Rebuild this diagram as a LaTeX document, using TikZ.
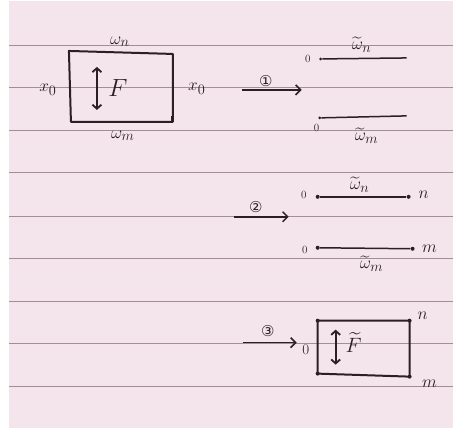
\documentclass[tikz,border=0pt]{standalone}
\usepackage{amsmath}
\usepackage{fontspec}
\newfontfamily\circfont{DejaVu Sans}
\usetikzlibrary{arrows.meta}

\definecolor{paper}{HTML}{F3E5EB}
\definecolor{rulec}{HTML}{A38E96}
\definecolor{inkc}{HTML}{2A1F22}

\begin{document}
\begin{tikzpicture}[
    x=1pt, y=-1pt,
    inkline/.style={draw=inkc, line width=2pt, line join=round},
    segline/.style={draw=inkc, line width=1.5pt},
    steparrow/.style={draw=inkc, line width=1.5pt, -{Straight Barb[length=5pt, width=10pt]}},
    dblarrow/.style={draw=inkc, line width=1.8pt, {Straight Barb[length=4pt, width=9pt]}-{Straight Barb[length=4pt, width=9pt]}},
    lbl/.style={text=inkc, font=\fontsize{19}{22}\selectfont, inner sep=1pt},
    big/.style={text=inkc, font=\fontsize{26}{30}\selectfont, inner sep=1pt},
    num/.style={text=inkc, font=\circfont\fontsize{15}{17}\selectfont, inner sep=0pt},
    zeromark/.style={text=inkc, font=\fontsize{11}{12}\selectfont, inner sep=0pt},
    endpt/.style={circle, fill=inkc, inner sep=0pt, minimum size=4pt},
]

% paper and rules
\fill[white] (0,0) rectangle (453,431);
\fill[paper] (9,1) rectangle (453,428);
\foreach \y in {45,88,131,173,217,259,302,344,387}
    \draw[rulec, line width=0.9pt] (9,\y) -- (453,\y);

% original cell F
\coordinate (ftl) at (69,51);
\coordinate (ftr) at (173,54);
\coordinate (fbr) at (173,122);
\coordinate (fbl) at (71,122);
\draw[inkline] (ftl) -- (ftr) -- (fbr) -- (fbl) -- cycle;
\fill[inkc] (fbr) ++(-1.5,-6) rectangle ++(2.5,6);
\coordinate (fup) at (97,67);
\coordinate (fdn) at (97,110);
\draw[dblarrow] (fup) -- (fdn);
\node[big] (fname) at (118,88) {$F$};
\node[lbl] (wn) at (120,42) {$\omega_n$};
\node[lbl] (wm) at (123,136) {$\omega_m$};
\node[lbl] (xl) at (48,90) {$x_0$};
\node[lbl] (xr) at (197,89) {$x_0$};

% step 1: cut into two edges
\coordinate (a1s) at (242,90);
\coordinate (a1e) at (302,90);
\draw[steparrow] (a1s) -- (a1e);
\node[num] (one) at (266,81) {①};

\node[zeromark] (z1n) at (308,59) {0};
\node[endpt, minimum size=3pt] (p1n) at (321,59) {};
\coordinate (q1n) at (407,58);
\draw[segline] (p1n) -- (q1n);
\node[lbl] (tw1n) at (362,45) {$\widetilde{\omega}_n$};

\node[endpt, minimum size=3pt] (p1m) at (320,118) {};
\coordinate (q1m) at (407,116);
\draw[segline] (p1m) -- (q1m);
\node[zeromark] (z1m) at (317,128) {0};
\node[lbl] (tw1m) at (367,136) {$\widetilde{\omega}_m$};

% step 2: close the edges
\coordinate (a2s) at (234,217);
\coordinate (a2e) at (289,217);
\draw[steparrow] (a2s) -- (a2e);
\node[num] (two) at (256,207) {②};

\node[zeromark] (z2n) at (304,195) {0};
\node[endpt] (p2n) at (318,197) {};
\node[endpt] (q2n) at (409,197) {};
\draw[segline] (p2n) -- (q2n);
\node[lbl] (n2) at (424,195) {$n$};
\node[lbl] (tw2n) at (360,185) {$\widetilde{\omega}_n$};

\node[zeromark] (z2m) at (305,250) {0};
\node[endpt] (p2m) at (318,248) {};
\node[endpt] (q2m) at (413,249) {};
\draw[segline] (p2m) -- (q2m);
\node[lbl] (m2) at (430,249) {$m$};
\node[lbl] (tw2m) at (372,264) {$\widetilde{\omega}_m$};

% step 3: new cell
\coordinate (a3s) at (243,343);
\coordinate (a3e) at (297,343);
\draw[steparrow] (a3s) -- (a3e);
\node[num] (three) at (268,331) {③};
\node[zeromark, font=\fontsize{15}{16}\selectfont] (z3) at (306,350) {0};

\node[endpt] (gtl) at (318,321) {};
\node[endpt] (gtr) at (410,321) {};
\node[endpt] (gbr) at (410,377) {};
\node[endpt] (gbl) at (318,374) {};
\draw[inkline] (gtl.center) -- (gtr.center) -- (gbr.center) -- (gbl.center) -- cycle;
\coordinate (gup) at (336,330);
\coordinate (gdn) at (336,365);
\draw[dblarrow] (gup) -- (gdn);
\node[lbl, font=\fontsize{21}{24}\selectfont] (gname) at (354,343) {$\widetilde{F}$};
\node[lbl] (n3) at (423,316) {$n$};
\node[lbl] (m3) at (430,384) {$m$};

\end{tikzpicture}
\end{document}
